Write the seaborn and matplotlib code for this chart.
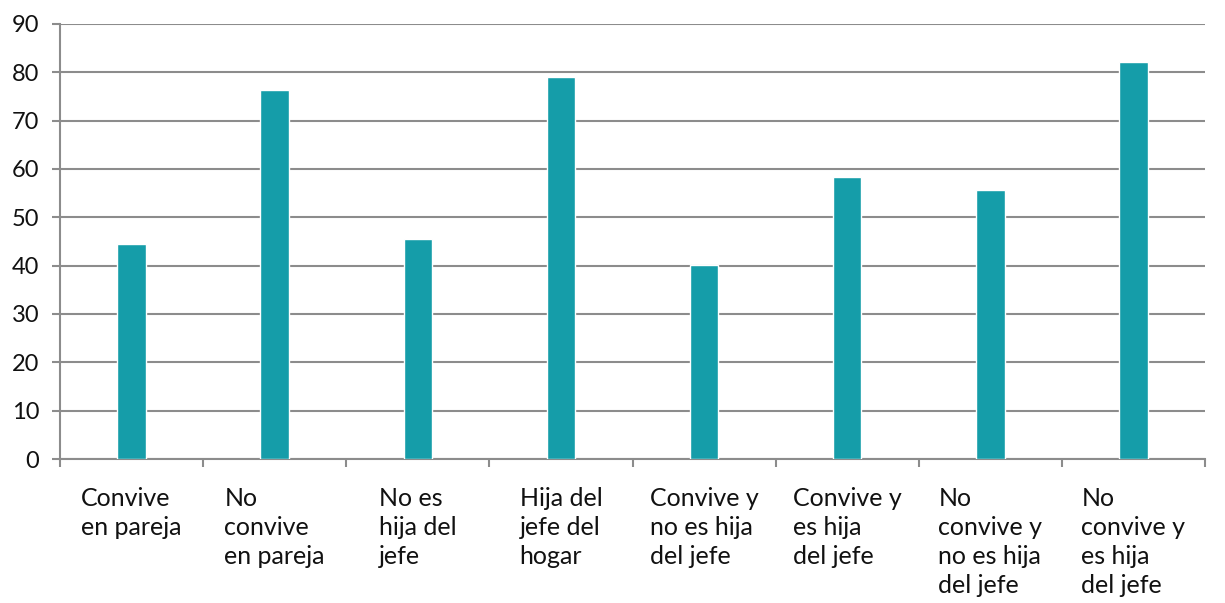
import matplotlib.pyplot as plt
import numpy as np
import pandas as pd
import seaborn as sns

categories = [
    "Convive\nen pareja",
    "No\nconvive\nen pareja",
    "No es\nhija del\njefe",
    "Hija del\njefe del\nhogar",
    "Convive y\nno es hija\ndel jefe",
    "Convive y\nes hija\ndel jefe",
    "No\nconvive y\nno es hija\ndel jefe",
    "No\nconvive y\nes hija\ndel jefe",
]
values = [44.5, 76.3, 45.6, 79.0, 40.2, 58.4, 55.7, 82.1]
y_ticks = list(range(0, 91, 10))

BAR_COLOR = "#159DA9"
GRID_COLOR = "#8C8C8C"


def main():
    sns.set_theme(style="white")
    plt.rcParams["font.family"] = ["Lato", "DejaVu Sans"]

    df = pd.DataFrame({"cat": categories, "val": values})

    fig = plt.figure(figsize=(12.25, 6.03), dpi=100)
    ax = fig.add_axes([60 / 1225, 1 - 459 / 603, 1145 / 1225, 435 / 603])

    sns.barplot(data=df, x="cat", y="val", color=BAR_COLOR, width=0.2,
                saturation=1, ax=ax, zorder=3)

    ax.set_xlim(-0.5, len(categories) - 0.5)
    ax.set_ylim(0, 90)
    ax.set_yticks(y_ticks)
    ax.yaxis.grid(True, color=GRID_COLOR, linewidth=1.5, zorder=0)
    ax.set_axisbelow(True)

    for side in ["top", "right"]:
        ax.spines[side].set_visible(False)
    for side in ["left", "bottom"]:
        ax.spines[side].set_color(GRID_COLOR)
        ax.spines[side].set_linewidth(1.5)

    ax.tick_params(axis="y", which="major", left=True, length=6, width=1.5,
                   color=GRID_COLOR, pad=9, labelsize=17, labelcolor="#111111")
    ax.tick_params(axis="x", which="major", bottom=False, length=0, pad=20,
                   labelsize=18, labelcolor="#111111")

    ax.set_xticks(np.arange(len(categories)))
    ax.set_xticklabels(categories, ha="center", multialignment="left",
                       linespacing=1.32)
    ax.set_xticks(np.arange(len(categories) + 1) - 0.5, minor=True)
    ax.tick_params(axis="x", which="minor", bottom=True, length=6, width=1.5,
                   color=GRID_COLOR)

    ax.set_xlabel("")
    ax.set_ylabel("")

    fig.savefig("out.png", dpi=100)
    plt.close(fig)


if __name__ == "__main__":
    main()
